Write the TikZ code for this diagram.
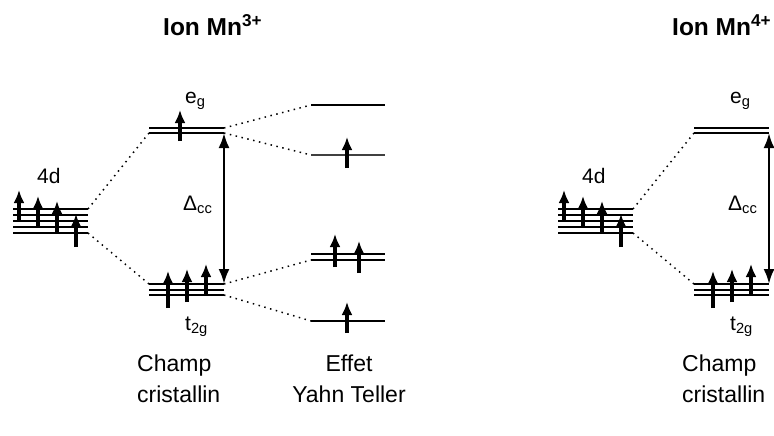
\documentclass[tikz,border=0pt]{standalone}
\usepackage{fontspec}
\setmainfont{Liberation Sans}
\usetikzlibrary{arrows.meta}

\begin{document}
\begin{tikzpicture}[x=1pt,y=-1pt,>=Latex,
  level/.style={line width=2pt},
  thinlevel/.style={line width=1.2pt,black!75},
  spin/.style={-{Latex[length=13pt,width=11pt]},line width=3.4pt},
  gap/.style={{Latex[length=15pt,width=11pt]}-{Latex[length=15pt,width=11pt]},line width=2.4pt},
  link/.style={line width=1.5pt,dash pattern=on 1.5pt off 4.5pt},
  lbl/.style={font=\fontsize{21}{25}\selectfont,inner sep=0pt,anchor=base west},
  txt/.style={font=\fontsize{23}{31}\selectfont,inner sep=0pt,anchor=base}]
\useasboundingbox (0,0) rectangle (774,436);
% both ions: 4d, e_g, t_2g and crystal field splitting
\foreach \p/\dx in {a/0,b/545}{
\begin{scope}[xshift=\dx]
  \foreach \i/\y in {1/209,2/215,3/221,4/227,5/233}
    \draw[level] (13,\y) coordinate (\p d\i l) -- (88,\y) coordinate (\p d\i r);
  \draw[spin] (19,221)--(19,190); \draw[spin] (38,227)--(38,196);
  \draw[spin] (57,233)--(57,201); \draw[spin] (76,247)--(76,214);
  \node[lbl] (\p4d) at (37,183) {4d};
  \draw[level] (149,128) coordinate (\p eg1l) -- (224,128) coordinate (\p eg1r);
  \draw[level] (149,133) coordinate (\p eg2l) -- (224,133) coordinate (\p eg2r);
  \foreach \i/\y in {1/284,2/289.5,3/295}
    \draw[level] (149,\y) coordinate (\p t\i l) -- (224,\y) coordinate (\p t\i r);
  \draw[spin] (168,308)--(168,271); \draw[spin] (187,302)--(187,269);
  \draw[spin] (206,295)--(206,264);
  \node[lbl] (\p eg) at (185,103) {e\textsubscript{g}};
  \node[lbl] (\p t2g) at (185,330) {t\textsubscript{2g}};
  \node[lbl] (\p dcc) at (183,210) {Δ\textsubscript{cc}};
  \draw[gap] (\p eg2r) -- (\p t1r);
  \draw[link] (\p d1r) -- (\p eg2l);
  \draw[link] (\p d5r) -- (\p t1l);
  \node[txt,anchor=base west,align=left] (\p champ) at (137,402) {Champ\\cristallin};
\end{scope}}
% Mn3+ only: e_g electron and Jahn-Teller splitting
\draw[spin] (180,141)--(180,110);
\draw[level] (311,105) coordinate (jt1l) -- (385,105);
\draw[thinlevel] (311,155) coordinate (jt2l) -- (385,155);
\draw[level] (311,254) coordinate (jt3l) -- (385,254);
\draw[level] (311,260) coordinate (jt4l) -- (385,260);
\draw[level] (311,321) coordinate (jt5l) -- (385,321);
\draw[spin] (347,168)--(347,137);
\draw[spin] (335,267)--(335,234); \draw[spin] (359,273)--(359,241);
\draw[spin] (347,333)--(347,302);
\draw[link] (aeg1r) -- (jt1l);
\draw[link] (aeg2r) -- (jt2l);
\draw[link] (at1r) -- (jt4l);
\draw[link] (at3r) -- (jt5l);
\node[txt,align=center] (jahn) at (349,402) {Effet\\Yahn Teller};
% titles
\node[inner sep=0pt,anchor=base west,font=\bfseries\fontsize{24.5}{29}\selectfont] (ion3) at (163,36) {Ion Mn\textsuperscript{3+}};
\node[inner sep=0pt,anchor=base west,font=\bfseries\fontsize{24.5}{29}\selectfont] (ion4) at (672,36) {Ion Mn\textsuperscript{4+}};
\end{tikzpicture}
\end{document}
